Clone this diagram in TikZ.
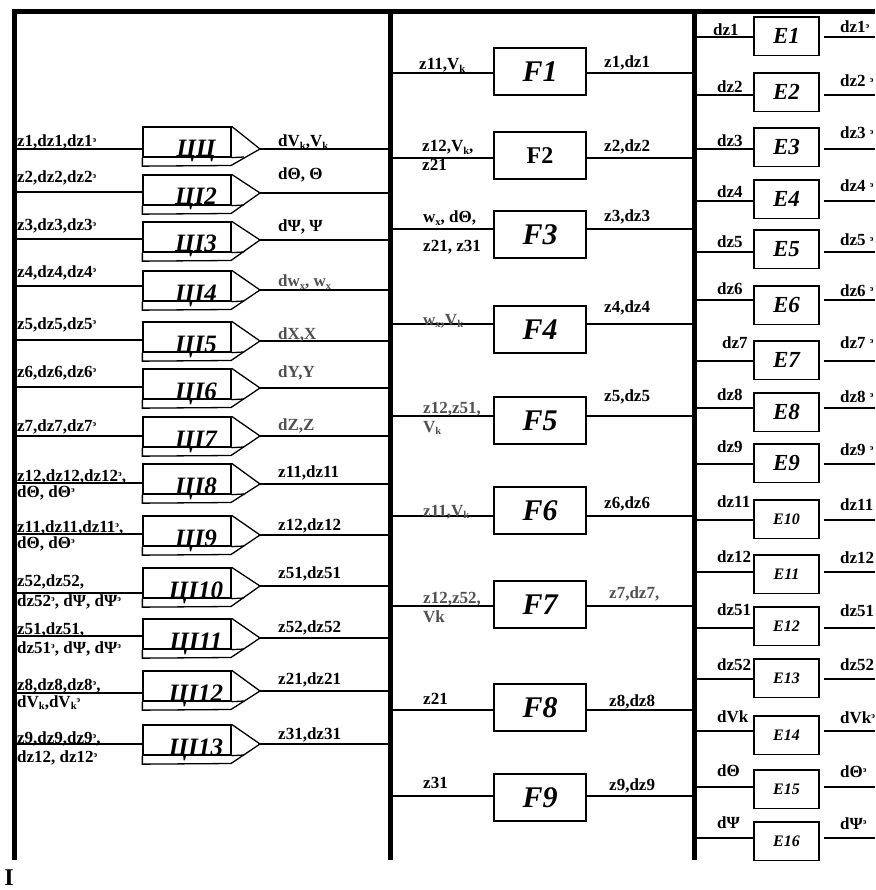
\documentclass[tikz,border=0pt]{standalone}
\usepackage{fontspec}
\setmainfont{Liberation Serif}
\definecolor{labgray}{HTML}{505050}
\newcommand\supe{\raisebox{4.8pt}{\fontsize{8.5}{8.5}\selectfont э}}
\newcommand\lowk[1]{\raisebox{-2.5pt}{\fontsize{10.5}{10.5}\selectfont #1}}
\tikzset{
  wire/.style={line width=1.3pt},
  bus/.style={line width=5pt},
  lab/.style={anchor=base west, inner sep=0pt, font=\fontsize{17}{17}\selectfont\bfseries},
  glab/.style={lab, text=labgray},
  cibody/.style={draw, line width=1.3pt, minimum width=88pt, minimum height=30pt, inner sep=0pt},
  cilab/.style={anchor=base, inner sep=0pt, font=\fontsize{25}{25}\selectfont\bfseries\itshape},
  fbox/.style={draw, line width=1.3pt, minimum width=92pt, minimum height=47pt, inner sep=0pt, font=\fontsize{30}{30}\selectfont\bfseries\itshape},
  fboxup/.style={fbox, font=\fontsize{24}{24}\selectfont\bfseries},
  ebox/.style={draw, line width=1.3pt, minimum width=65pt, minimum height=38.5pt, inner sep=0pt, font=\fontsize{23}{23}\selectfont\bfseries\itshape},
  eboxsm/.style={ebox, font=\fontsize{16}{16}\selectfont\bfseries\itshape},
}
\newcommand\cibox[5]{%
  \node[cibody] (#1) at (187,#2+15) {};
  \coordinate (#1tip) at (260,#5);
  \draw[wire, line join=miter] (#1.south west) -- ++(0,8.5) -- (231,#2+38.5) -- (#1tip) -- (#1.north east);
  \draw[wire] (#1.south east) -- (244,#2+30);
  \node[cilab] (#1t) at (196,#2+30) {#3};
  \draw[wire] (busL |- 0,#4) -- (#1.west |- 0,#4);
  \draw[wire] (#1tip) -- (busM |- #1tip);
}
\newcommand\fblock[5]{%
  \node[#5] (#1) at (540,#2+23.5) {#3};
  \draw[wire] (busM |- 0,#4) -- (#1.west |- 0,#4);
  \draw[wire] (#1.east |- 0,#4) -- (busR |- 0,#4);
}
\newcommand\eblock[5]{%
  \node[#5] (#1) at (786.5,#2+19.25) {#3};
  \draw[wire] (busR |- 0,#4) -- (#1.west |- 0,#4);
  \draw[wire] (#1.east |- 0,#4) ++(4,0) -- (edgeR |- 0,#4);
}
\begin{document}
\begin{tikzpicture}[x=1pt,y=-1pt]
\useasboundingbox (0,0) rectangle (875,890);
\coordinate (busL) at (14,12);
\coordinate (busM) at (390,12);
\coordinate (busR) at (694,12);
\coordinate (edgeR) at (875,12);
% buses
\draw[bus, line join=miter] (14,860) -- (busL) -- (edgeR);
\draw[bus] (busM) -- (390,860);
\draw[bus] (busR) -- (694,860);
% integrators
\cibox{c1}{127}{ЦЦ}{149}{149}
\cibox{c2}{175}{ЦI2}{192}{193}
\cibox{c3}{222}{ЦI3}{239}{240}
\cibox{c4}{271}{ЦI4}{286}{290}
\cibox{c5}{322}{ЦI5}{340}{341}
\cibox{c6}{369}{ЦI6}{387}{388}
\cibox{c7}{417}{ЦI7}{436}{436}
\cibox{c8}{464}{ЦI8}{483}{484}
\cibox{c9}{516}{ЦI9}{534}{535}
\cibox{c10}{568}{ЦI10}{593}{586}
\cibox{c11}{619}{ЦI11}{636}{638}
\cibox{c12}{671}{ЦI12}{693}{691}
\cibox{c13}{725}{ЦI13}{744}{744}
% integrator inputs
\node[lab] (i1) at (17,147) {z1,dz1,dz1\supe};
\node[lab] (i2) at (17,183) {z2,dz2,dz2\supe};
\node[lab] (i3) at (17,231) {z3,dz3,dz3\supe};
\node[lab] (i4) at (17,277) {z4,dz4,dz4\supe};
\node[lab] (i5) at (17,329) {z5,dz5,dz5\supe};
\node[lab] (i6) at (17,377) {z6,dz6,dz6\supe};
\node[lab] (i7) at (17,431) {z7,dz7,dz7\supe};
\node[lab] (i8a) at (17,481) {z12,dz12,dz12\supe,};
\node[lab] (i8b) at (17,497) {dΘ, dΘ\supe};
\node[lab] (i9a) at (17,532) {z11,dz11,dz11\supe,};
\node[lab] (i9b) at (17,548) {dΘ, dΘ\supe};
\node[lab] (i10a) at (17,586) {z52,dz52,};
\node[lab] (i10b) at (17,606) {dz52\supe, dΨ, dΨ\supe};
\node[lab] (i11a) at (17,634) {z51,dz51,};
\node[lab] (i11b) at (17,653) {dz51\supe, dΨ, dΨ\supe};
\node[lab] (i12a) at (17,690) {z8,dz8,dz8\supe,};
\node[lab] (i12b) at (17,707) {dV\lowk{k},dV\lowk{k}\supe};
\node[lab] (i13a) at (17,743) {z9,dz9,dz9\supe,};
\node[lab] (i13b) at (17,762) {dz12, dz12\supe};
% integrator outputs
\node[lab] (o1) at (278,147) {dV\lowk{k},V\lowk{k}};
\node[lab] (o2) at (278,180) {dΘ, Θ};
\node[lab] (o3) at (278,232) {dΨ, Ψ};
\node[glab] (o4) at (278,287) {dw\lowk{x}, w\lowk{x}};
\node[glab] (o5) at (278,339) {dX,X};
\node[glab] (o6) at (278,377) {dY,Y};
\node[glab] (o7) at (278,430) {dZ,Z};
\node[lab] (o8) at (278,477) {z11,dz11};
\node[lab] (o9) at (278,530) {z12,dz12};
\node[lab] (o10) at (278,578) {z51,dz51};
\node[lab] (o11) at (278,632) {z52,dz52};
\node[lab] (o12) at (278,684) {z21,dz21};
\node[lab] (o13) at (278,739) {z31,dz31};
% function blocks
\fblock{F1}{48}{F1}{73}{fbox}
\fblock{F2}{132}{F2}{158}{fboxup}
\fblock{F3}{211}{F3}{229}{fbox}
\fblock{F4}{306}{F4}{324}{fbox}
\fblock{F5}{397}{F5}{416}{fbox}
\fblock{F6}{487}{F6}{516}{fbox}
\fblock{F7}{581}{F7}{606}{fbox}
\fblock{F8}{684}{F8}{710}{fbox}
\fblock{F9}{774}{F9}{796}{fbox}
\node[lab] (fi1) at (419,70) {z11,V\lowk{k}};
\node[lab] (fi2a) at (422,152) {z12,V\lowk{k},};
\node[lab] (fi2b) at (422,171) {z21};
\node[lab] (fi3a) at (423,223) {w\lowk{x}, dΘ,};
\node[lab] (fi3b) at (423,252) {z21, z31};
\node[glab] (fi4) at (423,325) {w\lowk{x},V\lowk{k}};
\node[glab] (fi5a) at (423,413) {z12,z51,};
\node[glab] (fi5b) at (423,432) {V\lowk{k}};
\node[glab] (fi6) at (423,516) {z11,V\lowk{k}};
\node[glab] (fi7a) at (423,603) {z12,z52,};
\node[glab] (fi7b) at (423,622) {Vk};
\node[lab] (fi8) at (423,704) {z21};
\node[lab] (fi9) at (423,788) {z31};
\node[lab] (fo1) at (604,68) {z1,dz1};
\node[lab] (fo2) at (604,152) {z2,dz2};
\node[lab] (fo3) at (604,222) {z3,dz3};
\node[lab] (fo4) at (604,312) {z4,dz4};
\node[lab] (fo5) at (604,401) {z5,dz5};
\node[lab] (fo6) at (604,508) {z6,dz6};
\node[glab] (fo7) at (609,598) {z7,dz7,};
\node[lab] (fo8) at (609,706) {z8,dz8};
\node[lab] (fo9) at (609,790) {z9,dz9};
% E blocks
\eblock{E1}{17}{E1}{37}{ebox}
\eblock{E2}{73}{E2}{95}{ebox}
\eblock{E3}{128}{E3}{149}{ebox}
\eblock{E4}{180}{E4}{201}{ebox}
\eblock{E5}{230}{E5}{252}{ebox}
\eblock{E6}{286}{E6}{300}{ebox}
\eblock{E7}{341}{E7}{361}{ebox}
\eblock{E8}{393}{E8}{408}{ebox}
\eblock{E9}{444}{E9}{464}{ebox}
\eblock{E10}{500}{E10}{520}{eboxsm}
\eblock{E11}{555}{E11}{572}{eboxsm}
\eblock{E12}{607}{E12}{628}{eboxsm}
\eblock{E13}{659}{E13}{679}{eboxsm}
\eblock{E14}{716}{E14}{731}{eboxsm}
\eblock{E15}{770}{E15}{787}{eboxsm}
\eblock{E16}{822}{E16}{838}{eboxsm}
\node[lab] (ei1) at (713,36) {dz1};
\node[lab] (ei2) at (717,93) {dz2};
\node[lab] (ei3) at (717,147) {dz3};
\node[lab] (ei4) at (717,198) {dz4};
\node[lab] (ei5) at (717,248) {dz5};
\node[lab] (ei6) at (717,294) {dz6};
\node[lab] (ei7) at (722,348) {dz7};
\node[lab] (ei8) at (717,400) {dz8};
\node[lab] (ei9) at (717,452) {dz9};
\node[lab] (ei10) at (717,507) {dz11};
\node[lab] (ei11) at (717,562) {dz12};
\node[lab] (ei12) at (717,615) {dz51};
\node[lab] (ei13) at (717,670) {dz52};
\node[lab] (ei14) at (717,722) {dVk};
\node[lab] (ei15) at (717,776) {dΘ};
\node[lab] (ei16) at (717,828) {dΨ};
\node[lab] (eo1) at (840,33) {dz1\supe};
\node[lab] (eo2) at (840,87) {dz2 \supe};
\node[lab] (eo3) at (840,139) {dz3 \supe};
\node[lab] (eo4) at (840,192) {dz4 \supe};
\node[lab] (eo5) at (840,246) {dz5 \supe};
\node[lab] (eo6) at (840,296) {dz6 \supe};
\node[lab] (eo7) at (840,348) {dz7 \supe};
\node[lab] (eo8) at (840,402) {dz8 \supe};
\node[lab] (eo9) at (840,455) {dz9 \supe};
\node[lab] (eo10) at (840,510) {dz11};
\node[lab] (eo11) at (840,563) {dz12};
\node[lab] (eo12) at (840,616) {dz51};
\node[lab] (eo13) at (840,670) {dz52};
\node[lab] (eo14) at (840,723) {dVk\supe};
\node[lab] (eo15) at (840,777) {dΘ\supe};
\node[lab] (eo16) at (840,829) {dΨ\supe};
% corner mark
\node[anchor=base, inner sep=0pt, font=\fontsize{24}{24}\selectfont\bfseries] (mark) at (9,885) {I};
\end{tikzpicture}
\end{document}
